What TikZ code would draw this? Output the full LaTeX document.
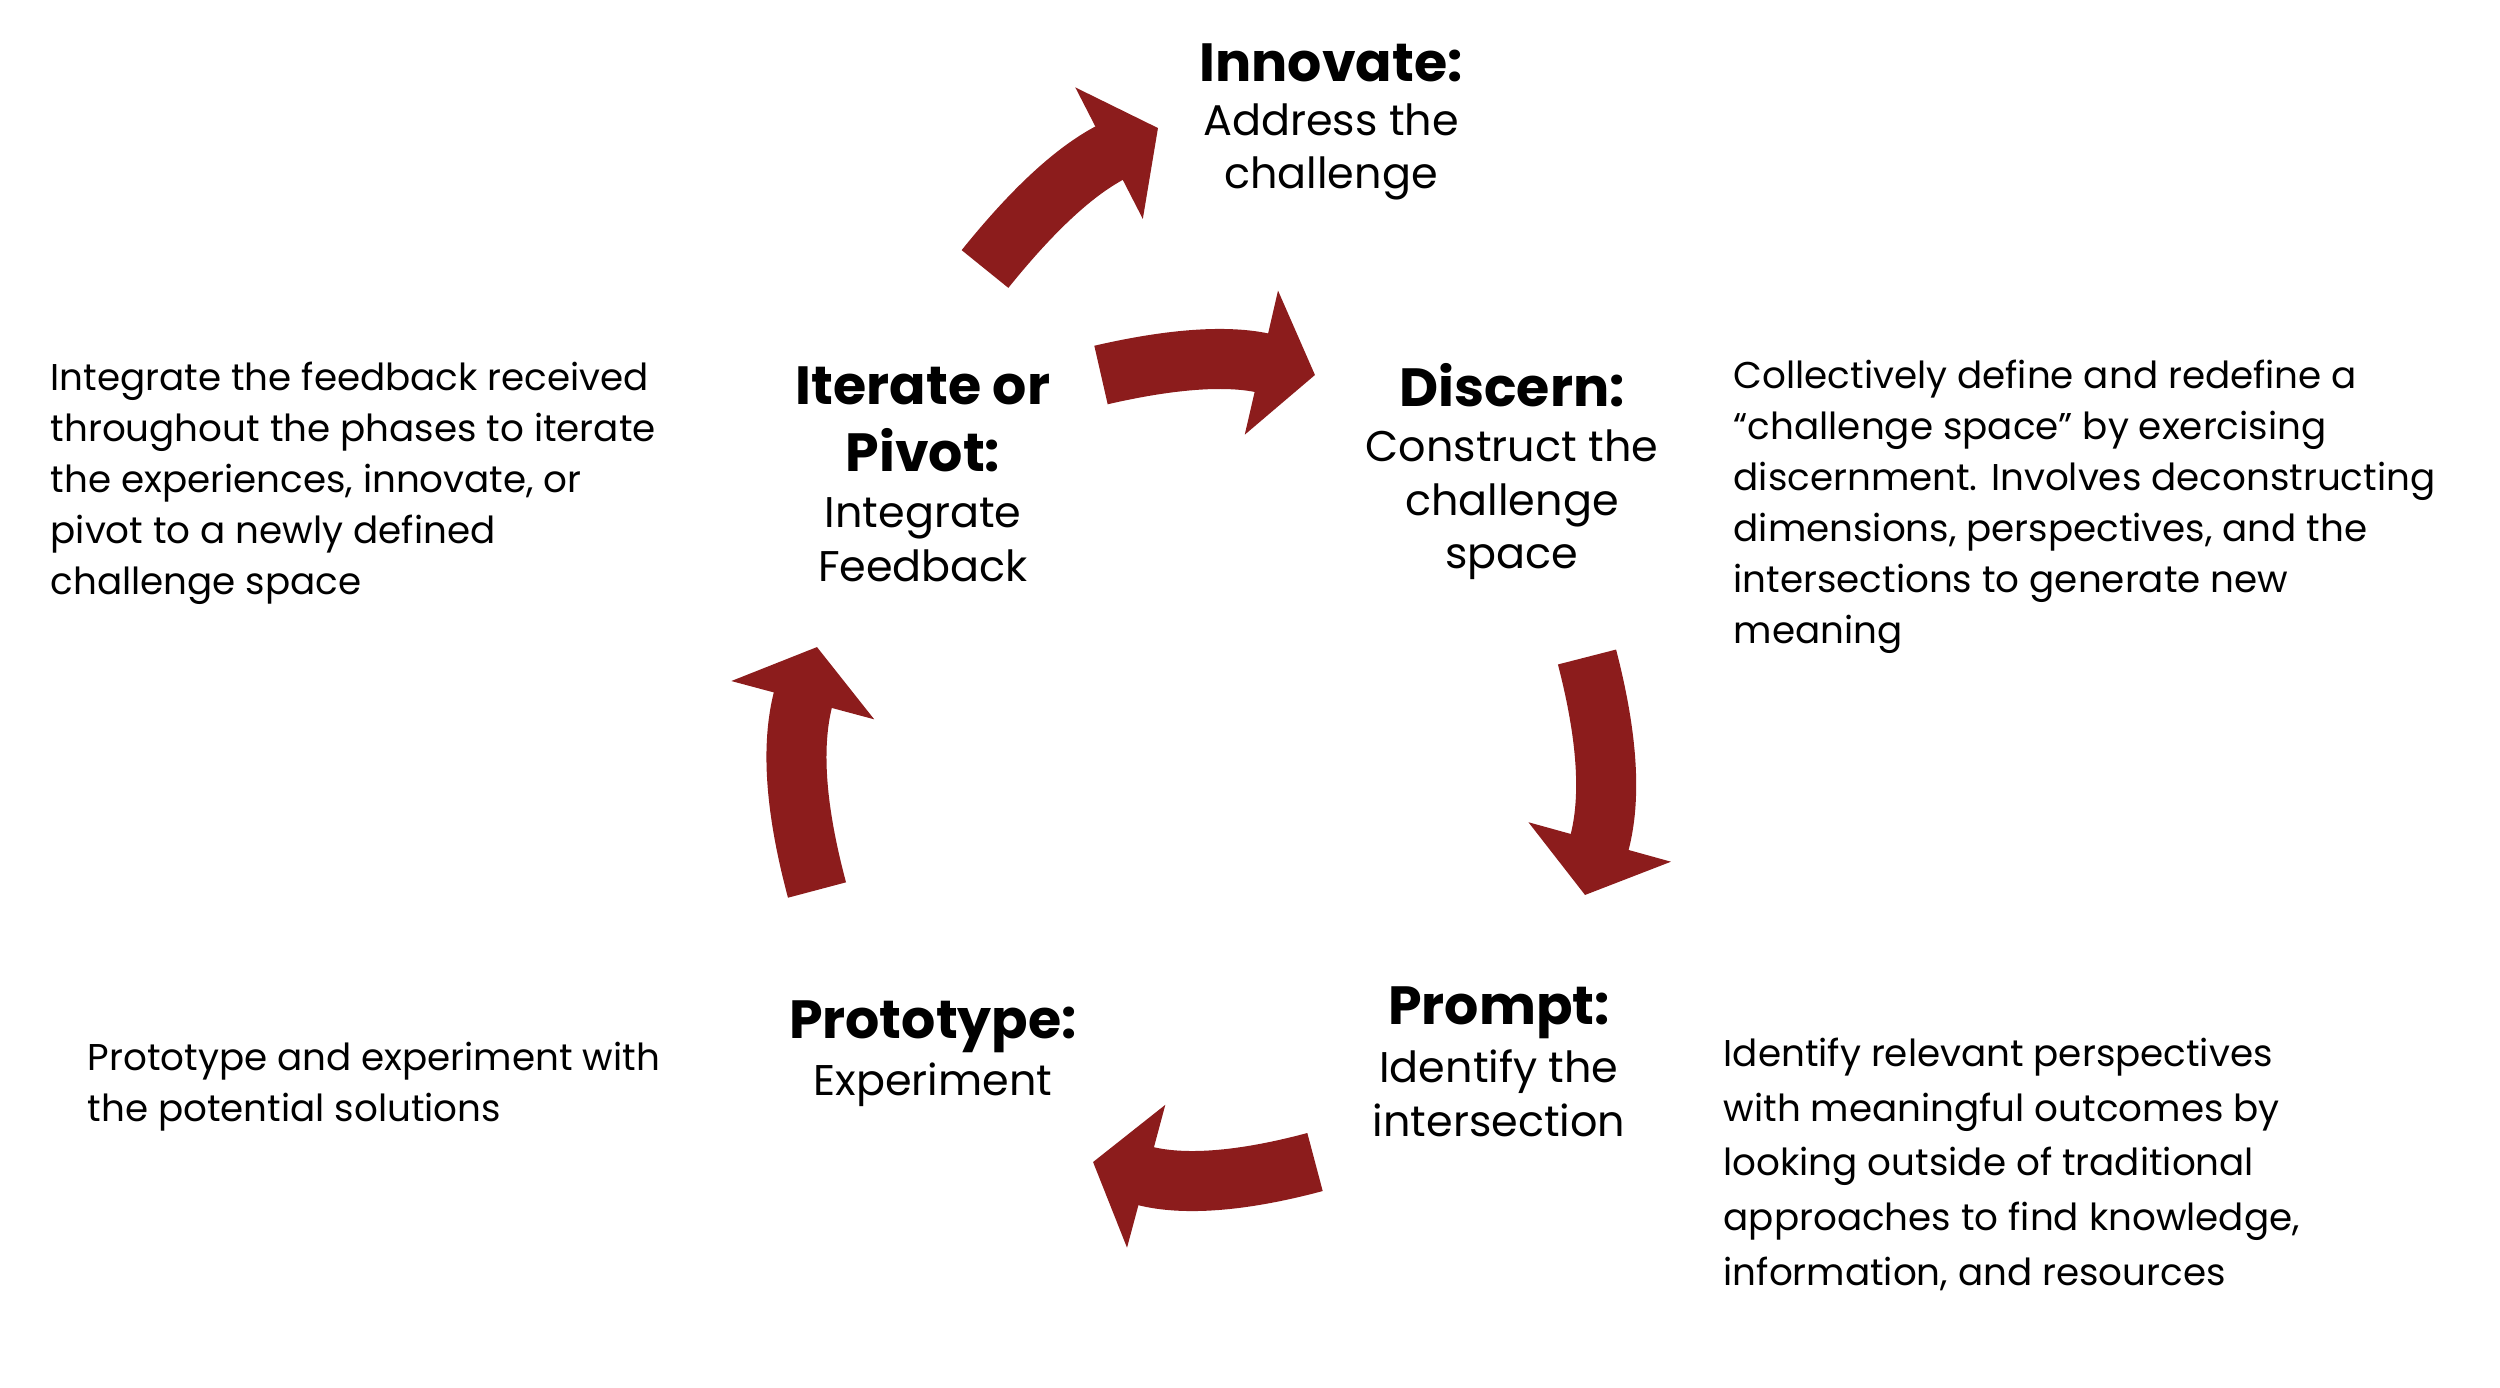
\documentclass[tikz,border=0pt]{standalone}
\usepackage{fontspec}
\newfontfamily\phasefont{Poppins}
\newfontfamily\notefont{Poppins}
\usetikzlibrary{arrows.meta,positioning}
\definecolor{cyclered}{RGB}{140,28,28}

\begin{document}
\begin{tikzpicture}
[x=0.01cm,y=-0.01cm,
 phase/.style={anchor=north,align=center,inner sep=0pt,text depth=0pt,
   font=\phasefont\bfseries\fontsize{15.3}{19.1}\selectfont,execute at begin node=\strut},
 task/.style={anchor=north,align=center,inner sep=0pt,
   font=\phasefont\fontsize{12.2}{15.1}\selectfont,execute at begin node=\strut},
 note/.style={anchor=north west,align=left,inner sep=0pt,
   font=\notefont\fontsize{10.6}{14.5}\selectfont,execute at begin node=\strut},
 cycle/.style={draw=cyclered,line width=0.6cm,-{Triangle[width=1.45cm,length=0.55cm]}}]
\useasboundingbox[fill=white] (0,0) rectangle (2500,1387);
% phases
\node[phase] (innovate) at (1331,34) {Innovate:};
\node[task,below=0.21cm of innovate] (innovatetask) {Address the\\challenge};
\node[phase] (discern) at (1512,359) {Discern:};
\node[task,below=0.22cm of discern] (discerntask) {Construct the\\challenge\\space};
\node[phase] (prompt) at (1499,977) {Prompt:};
\node[task,below=0.24cm of prompt] (prompttask) {Identify the\\intersection};
\node[phase] (prototype) at (933,991) {Prototype:};
\node[task,below=0.18cm of prototype] (prototypetask) {Experiment};
\node[phase] (iterate) at (923,366) {Iterate or\\Pivot:};
\node[task,below=0.25cm of iterate] (iteratetask) {Integrate\\Feedback};
% notes
\node[note] (iteratenote) at (50,361) {Integrate the feedback received\\throughout the phases to iterate\\the experiences, innovate, or\\pivot to a newly defined\\challenge space};
\node[note] (discernnote) at (1733,359) {Collectively define and redefine a\\“challenge space” by exercising\\discernment. Involves deconstructing\\dimensions, perspectives, and the\\intersections to generate new\\meaning};
\node[note] (prototypenote) at (87,1041) {Prototype and experiment with\\the potential solutions};
\node[note,font=\notefont\fontsize{10.6}{15.6}\selectfont] (promptnote) at (1723,1037) {Identify relevant perspectives\\with meaningful outcomes by\\looking outside of traditional\\approaches to find knowledge,\\information, and resources};
% cycle arrows
\coordinate (a1) at (985,269);   \coordinate (b1) at (1158,128);
\coordinate (a2) at (1101,375);  \coordinate (b2) at (1315,375);
\coordinate (a3) at (1587,657);  \coordinate (b3) at (1585,895);
\coordinate (a4) at (1315,1162); \coordinate (b4) at (1093,1162);
\coordinate (a5) at (817,890);   \coordinate (b5) at (817,647);
\draw[cycle] (a1) to[bend left=12] (b1);
\draw[cycle] (a2) to[bend left=13] (b2);
\draw[cycle] (a3) to[bend left=15] (b3);
\draw[cycle] (a4) to[bend left=15] (b4);
\draw[cycle] (a5) to[bend left=15] (b5);
\end{tikzpicture}
\end{document}
